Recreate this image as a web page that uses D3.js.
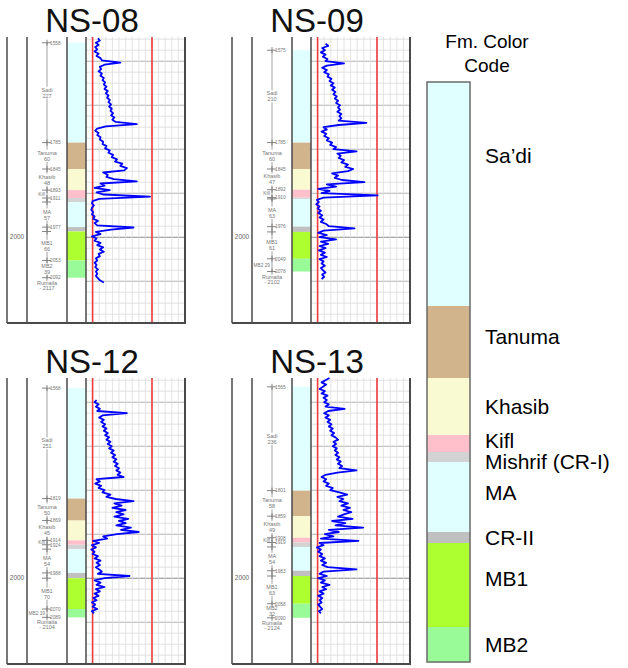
<!DOCTYPE html>
<html>
<head>
<meta charset="utf-8">
<script src="https://cdn.jsdelivr.net/npm/d3@7"></script>
<style>
  body { margin: 0; background: #fff; }
  svg { display: block; font-family: "Liberation Sans", Arial, sans-serif; }
</style>
</head>
<body>
<svg id="chart" width="628" height="668"></svg>
<script>
// ---- Formation scheme -------------------------------------------------
const formations = ["Sa\u2019di", "Tanuma", "Khasib", "Kifl", "Mishrif (CR-I)", "MA", "CR-II", "MB1", "MB2"];
const fmShort    = ["Sadi", "Tanuma", "Khasib", "Kifl", "", "MA", "", "MB1", "MB2"];
const fmColors   = ["#e0ffff", "#d2b48c", "#fafad2", "#ffc0cb", "#d3d3d3", "#e0ffff", "#c0c0c0", "#adff2f", "#98fb98"];
// legend column spans (representative thickness, m)
const legendSpan = [224, 72, 57, 17, 10, 70, 11, 84, 35];
const legendLabelAt = [0.33, 0.42, 0.5, 0.3, 0.9, 0.43, 0.5, 0.42, 0.5];

// ---- Wells -------------------------------------------------------------
const wellNames = ["NS-08", "NS-09", "NS-12", "NS-13"];
// formation tops (m): Sa'di ... MB2, then Rumaila
const tops08 = [1558, 1785, 1845, 1893, 1911, 1920, 1977, 1987, 2053, 2092];
const tops09 = [1575, 1785, 1845, 1892, 1910, 1913, 1976, 1988, 2049, 2078];
const tops12 = [1568, 1819, 1869, 1914, 1924, 1934, 1988, 2000, 2070, 2089];
const tops13 = [1565, 1801, 1859, 1908, 1919, 1929, 1983, 1995, 2058, 2090];
const tdLabels = ["- 2117", "- 2102", "- 2104", "- 2124"];
// which tops carry a printed depth
const topShown = [true, true, true, true, true, false, true, false, true, true];

// gamma-ray curves, sampled every 5 m from the given start depth
const grStep = 5;
const grStart08 = 1548;
const gr08 = [18,21,15,19,14,17,13,19,16,22,24,52,28,21,23,19,24,22,
  27,25,29,27,31,28,33,30,34,32,36,34,38,35,39,37,41,38,43,40,45,
  77,30,17,14,19,17,22,21,26,25,31,29,36,34,41,39,47,44,55,52,62,58,
  26,33,31,42,77,22,28,13,36,16,26,97,20,10,9,12,9,8,11,9,13,11,18,13,17,
  72,38,15,22,9,16,13,22,17,26,21,27,19,21,15,17,13,16,14,18,15,17,15,18,21,27];
const grStart09 = 1560;
const gr09 = [22,26,17,21,15,22,18,25,22,50,
  24,17,24,20,27,25,31,28,34,30,36,32,37,34,39,36,41,38,44,41,44,40,46,43,46,42,
  84,42,19,24,16,23,20,27,24,32,29,38,34,69,40,45,42,50,46,56,52,64,56,
  32,41,36,47,81,24,38,11,28,16,101,19,9,12,8,13,10,15,11,17,13,19,15,23,27,
  66,19,11,24,13,38,15,26,13,22,12,21,15,24,13,19,16,21,15,18,22,17,20,16];
const grStart12 = 1595;
const gr12 = [16,13,19,15,21,17,62,
  25,20,27,23,29,25,31,27,33,29,35,31,37,33,39,35,42,38,44,40,46,42,48,44,50,46,52,48,57,
  16,21,14,23,19,28,25,37,31,45,72,43,54,40,60,46,57,43,64,50,60,46,68,53,80,47,
  26,32,11,20,9,15,8,13,10,18,13,22,16,21,15,20,24,18,66,28,
  13,22,16,28,15,21,13,19,11,16,9,14,10,17,9,12];
const grStart13 = 1545;
const gr13 = [28,22,16,23,18,13,21,16,25,19,24,20,27,22,51,
  26,20,27,22,29,25,31,27,33,29,35,31,37,41,34,38,33,39,36,41,37,43,39,45,41,47,43,
  69,40,22,16,23,19,27,23,33,29,43,55,40,49,43,56,46,59,49,61,50,41,63,32,52,37,79,27,
  42,21,34,15,72,13,19,9,15,11,17,13,21,15,23,17,25,69,19,13,24,11,21,15,28,17,23,13,
  19,11,17,13,16,11,14,17,12,15];

const wells = [
  { name: wellNames[0], tops: tops08, td: tdLabels[0], start: grStart08, gr: gr08 },
  { name: wellNames[1], tops: tops09, td: tdLabels[1], start: grStart09, gr: gr09 },
  { name: wellNames[2], tops: tops12, td: tdLabels[2], start: grStart12, gr: gr12 },
  { name: wellNames[3], tops: tops13, td: tdLabels[3], start: grStart13, gr: gr13 }
];

// ---- Layout ------------------------------------------------------------
const svg = d3.select("#chart");
const origins = [[7, 37], [232, 37], [7, 378], [232, 378]];
const trackH = 286;
const col = { depth: 0, label: 20, fm: 60, log: 79, end: 178 };
const depthWindow = [1545, 2195];

const y = d3.scaleLinear().domain(depthWindow).range([0, trackH]);
const xGR = d3.scaleLinear().domain([0, 150]).range([col.log, col.end]);
const gridDepths = d3.range(1550, 2195, 25);
const gridGR = d3.range(10, 150, 10);
const cutoffs = [10, 100];

wells.forEach((w, i) => {
  const g = svg.append("g").attr("transform", `translate(${origins[i][0]},${origins[i][1]})`);

  // title
  g.append("text")
    .attr("x", 85).attr("y", -5)
    .attr("text-anchor", "middle")
    .attr("font-size", 33)
    .attr("fill", "#111")
    .text(w.name);

  // log-track grid
  g.append("g").selectAll("line").data(gridDepths).join("line")
    .attr("x1", col.log).attr("x2", col.end)
    .attr("y1", d => y(d)).attr("y2", d => y(d))
    .attr("stroke", d => d === 2000 ? "#8a8a8a" : (d % 100 === 0 ? "#b4b4b4" : "#dcdcdc"))
    .attr("stroke-width", d => d % 100 === 0 ? 1.1 : 0.8);
  g.append("g").selectAll("line").data(gridGR).join("line")
    .attr("x1", d => xGR(d)).attr("x2", d => xGR(d))
    .attr("y1", 0).attr("y2", trackH)
    .attr("stroke", "#dcdcdc").attr("stroke-width", 0.8);

  // formation colour column
  const intervals = formations.map((f, k) => ({ k, top: w.tops[k], base: w.tops[k + 1] }));
  g.append("g").selectAll("rect").data(intervals).join("rect")
    .attr("x", col.fm).attr("width", col.log - col.fm)
    .attr("y", d => y(d.top)).attr("height", d => y(d.base) - y(d.top))
    .attr("fill", d => fmColors[d.k]);

  // cutoff lines
  g.append("g").selectAll("line").data(cutoffs).join("line")
    .attr("x1", d => xGR(d)).attr("x2", d => xGR(d))
    .attr("y1", 0).attr("y2", trackH)
    .attr("stroke", "#ee3b3b").attr("stroke-width", 1.6);

  // gamma-ray curve
  const pts = w.gr.map((v, k) => ({ depth: w.start + k * grStep, gr: v }));
  g.append("path").datum(pts)
    .attr("fill", "none")
    .attr("stroke", "#0000ff")
    .attr("stroke-width", 1.8)
    .attr("stroke-linejoin", "round")
    .attr("d", d3.line().x(d => xGR(d.gr)).y(d => y(d.depth)));

  // formation tops column
  const cx = col.label + 20;
  const lab = g.append("g").attr("fill", "#777").attr("font-size", 5.5);
  lab.append("line")
    .attr("x1", cx).attr("x2", cx)
    .attr("y1", y(w.tops[0])).attr("y2", y(w.tops[w.tops.length - 1]))
    .attr("stroke", "#8a8a8a").attr("stroke-width", 0.8);
  intervals.forEach(d => {
    const name = fmShort[d.k];
    if (!name) return;
    const mid = (y(d.top) + y(d.base)) / 2;
    const h = y(d.base) - y(d.top);
    const thick = d.base - d.top;
    if (d.k === 3 || h < 14) {
      // thin interval: name (and thickness) to the left of the stick
      lab.append("text")
        .attr("x", cx - 2).attr("y", mid + 1.8)
        .attr("text-anchor", "end").attr("font-size", 4.8)
        .text(d.k === 3 ? name : `${name} ${thick}`);
      return;
    }
    lab.append("rect")
      .attr("x", cx - 12).attr("width", 24)
      .attr("y", mid - 6).attr("height", 12)
      .attr("fill", "#fff");
    lab.append("text")
      .attr("x", cx).attr("y", mid - 1)
      .attr("text-anchor", "middle")
      .text(name);
    lab.append("text")
      .attr("x", cx).attr("y", mid + 5)
      .attr("text-anchor", "middle")
      .text(thick);
  });
  w.tops.forEach((t, k) => {
    const yy = y(t);
    lab.append("line")
      .attr("x1", cx - 5).attr("x2", cx + 4)
      .attr("y1", yy).attr("y2", yy)
      .attr("stroke", "#777").attr("stroke-width", 0.9);
    lab.append("line")
      .attr("x1", cx).attr("x2", cx)
      .attr("y1", yy - 3).attr("y2", yy + 3)
      .attr("stroke", "#777").attr("stroke-width", 0.9);
    if (topShown[k]) {
      lab.append("text")
        .attr("x", cx + 3).attr("y", yy + 1.8)
        .attr("font-size", 4.8)
        .text(t);
    }
  });
  const tdY = y(w.tops[w.tops.length - 1]);
  lab.append("text").attr("x", cx).attr("y", tdY + 7).attr("text-anchor", "middle").text("Rumaila");
  lab.append("text").attr("x", cx).attr("y", tdY + 12).attr("text-anchor", "middle").text(w.td);

  // depth track label
  g.append("text")
    .attr("x", 10).attr("y", y(2000) + 2.2)
    .attr("text-anchor", "middle")
    .attr("font-size", 6.5).attr("fill", "#666")
    .text("2000");

  // track frame
  const frame = g.append("g").attr("stroke", "#4a4a4a");
  [col.depth, col.label, col.fm, col.log].forEach(x => {
    frame.append("line").attr("x1", x).attr("x2", x).attr("y1", 0).attr("y2", trackH).attr("stroke-width", 1.5);
  });
  frame.append("line").attr("x1", col.end).attr("x2", col.end).attr("y1", 0).attr("y2", trackH + 1).attr("stroke-width", 2);
  frame.append("line").attr("x1", col.depth).attr("x2", col.end).attr("y1", trackH).attr("y2", trackH).attr("stroke-width", 2);
});

// ---- Legend --------------------------------------------------------------
const legend = svg.append("g");
legend.append("text").attr("x", 487).attr("y", 48).attr("text-anchor", "middle")
  .attr("font-size", 19).attr("fill", "#000").text("Fm. Color");
legend.append("text").attr("x", 487).attr("y", 72).attr("text-anchor", "middle")
  .attr("font-size", 19).attr("fill", "#000").text("Code");

const cum = [0];
legendSpan.forEach(v => cum.push(cum[cum.length - 1] + v));
const ly = d3.scaleLinear().domain([0, cum[cum.length - 1]]).range([82, 662]);
const legendX = 427, legendW = 43;
legend.selectAll("rect.seg").data(formations).join("rect")
  .attr("class", "seg")
  .attr("x", legendX).attr("width", legendW)
  .attr("y", (d, k) => ly(cum[k])).attr("height", (d, k) => ly(cum[k + 1]) - ly(cum[k]))
  .attr("fill", (d, k) => fmColors[k]);
legend.append("rect")
  .attr("x", legendX).attr("y", ly(0)).attr("width", legendW).attr("height", ly(cum[cum.length - 1]) - ly(0))
  .attr("fill", "none").attr("stroke", "#6a6a6a").attr("stroke-width", 1.5);
legend.selectAll("text.lab").data(formations).join("text")
  .attr("class", "lab")
  .attr("x", 485)
  .attr("y", (d, k) => ly(cum[k] + legendSpan[k] * legendLabelAt[k]) + 7.5)
  .attr("font-size", 21).attr("fill", "#000")
  .text(d => d);
</script>
</body>
</html>
